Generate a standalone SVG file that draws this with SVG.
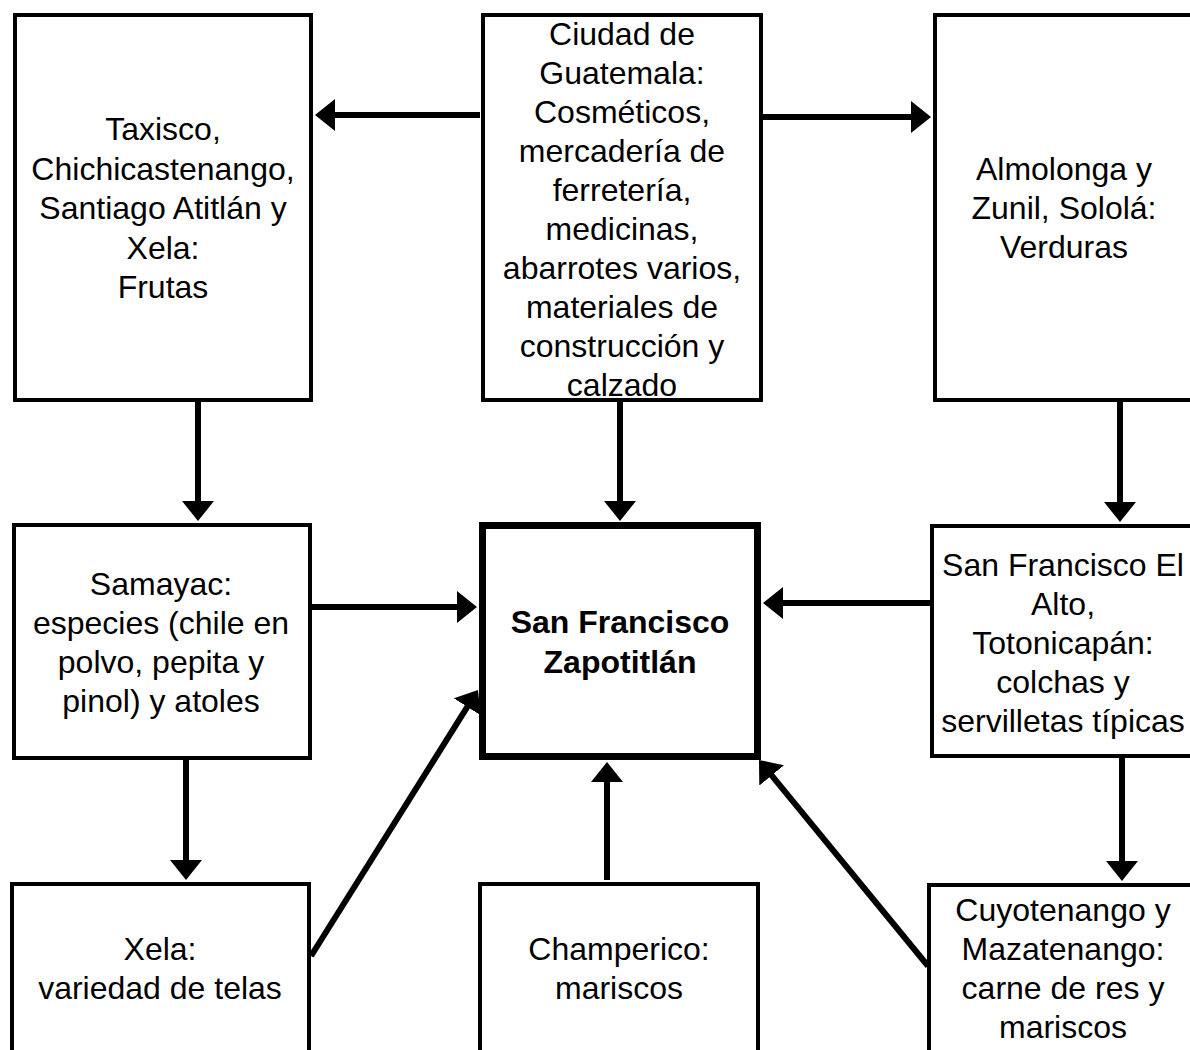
<svg xmlns="http://www.w3.org/2000/svg" width="1190" height="1050" viewBox="0 0 1190 1050">
<style>
.box{fill:#fff;stroke:#000;stroke-width:4}
.main{fill:#fff;stroke:#000;stroke-width:7}
.t{font-family:"Liberation Sans",Arial,sans-serif;font-size:32px;fill:#000;text-anchor:middle}
.b{font-weight:bold}
.c{stroke:#000;stroke-width:6;fill:none;marker-end:url(#ah)}
</style>
<defs>
<marker id="ah" viewBox="0 0 20 32" refX="2" refY="16" markerWidth="20" markerHeight="32" markerUnits="userSpaceOnUse" orient="auto">
<path d="M0,0 L20,16 L0,32 Z" fill="#000"/>
</marker>
</defs>
<rect width="1190" height="1050" fill="#fff"/>
<g id="connectors">
<line class="c" x1="480" y1="115" x2="333" y2="115"/>
<line class="c" x1="762" y1="117" x2="913" y2="117"/>
<line class="c" x1="198" y1="402" x2="198" y2="503"/>
<line class="c" x1="620" y1="402" x2="620" y2="503"/>
<line class="c" x1="1120" y1="402" x2="1120" y2="504"/>
<line class="c" x1="312" y1="607" x2="459" y2="607"/>
<line class="c" x1="931" y1="603" x2="781" y2="603"/>
<line class="c" x1="186" y1="760" x2="186" y2="862"/>
<line class="c" x1="1122" y1="758" x2="1122" y2="863"/>
<line class="c" x1="311" y1="956" x2="468.4" y2="705.2"/>
<line class="c" x1="607" y1="880" x2="607" y2="780"/>
<line class="c" x1="928" y1="966" x2="770.4" y2="773.9"/>
</g>
<g id="taxisco">
<rect class="box" x="15" y="15" width="296" height="385"/>
<text class="t" x="163" y="140">Taxisco,</text>
<text class="t" x="163" y="179.5">Chichicastenango,</text>
<text class="t" x="163" y="219">Santiago Atitlán y</text>
<text class="t" x="163" y="258.5">Xela:</text>
<text class="t" x="163" y="298">Frutas</text>
</g>
<g id="ciudad">
<rect class="box" x="483" y="15" width="278" height="385"/>
<text class="t" x="622" y="45">Ciudad de</text>
<text class="t" x="622" y="84">Guatemala:</text>
<text class="t" x="622" y="123">Cosméticos,</text>
<text class="t" x="622" y="162">mercadería de</text>
<text class="t" x="622" y="201">ferretería,</text>
<text class="t" x="622" y="240">medicinas,</text>
<text class="t" x="622" y="279">abarrotes varios,</text>
<text class="t" x="622" y="318">materiales de</text>
<text class="t" x="622" y="357">construcción y</text>
<text class="t" x="622" y="396">calzado</text>
</g>
<g id="almolonga">
<rect class="box" x="935" y="15" width="300" height="385"/>
<text class="t" x="1064" y="180">Almolonga y</text>
<text class="t" x="1064" y="219">Zunil, Sololá:</text>
<text class="t" x="1064" y="258">Verduras</text>
</g>
<g id="samayac">
<rect class="box" x="14" y="525" width="296" height="233"/>
<text class="t" x="161" y="595">Samayac:</text>
<text class="t" x="161" y="634">especies (chile en</text>
<text class="t" x="161" y="673">polvo, pepita y</text>
<text class="t" x="161" y="712">pinol) y atoles</text>
</g>
<g id="center">
<rect class="main" x="482.5" y="525.5" width="275" height="231"/>
<text class="t b" x="620" y="633">San Francisco</text>
<text class="t b" x="620" y="673">Zapotitlán</text>
</g>
<g id="sanfrancisco-el-alto">
<rect class="box" x="932" y="526" width="300" height="230"/>
<text class="t" x="1063" y="576">San Francisco El</text>
<text class="t" x="1063" y="615">Alto,</text>
<text class="t" x="1063" y="654">Totonicapán:</text>
<text class="t" x="1063" y="693">colchas y</text>
<text class="t" x="1063" y="732">servilletas típicas</text>
</g>
<g id="xela">
<rect class="box" x="12" y="884" width="297" height="200"/>
<text class="t" x="160" y="960">Xela:</text>
<text class="t" x="160" y="999">variedad de telas</text>
</g>
<g id="champerico">
<rect class="box" x="480" y="884" width="278" height="200"/>
<text class="t" x="619" y="960">Champerico:</text>
<text class="t" x="619" y="999">mariscos</text>
</g>
<g id="cuyotenango">
<rect class="box" x="929" y="885" width="300" height="200"/>
<text class="t" x="1063" y="921">Cuyotenango y</text>
<text class="t" x="1063" y="960">Mazatenango:</text>
<text class="t" x="1063" y="999">carne de res y</text>
<text class="t" x="1063" y="1038">mariscos</text>
</g>
</svg>
